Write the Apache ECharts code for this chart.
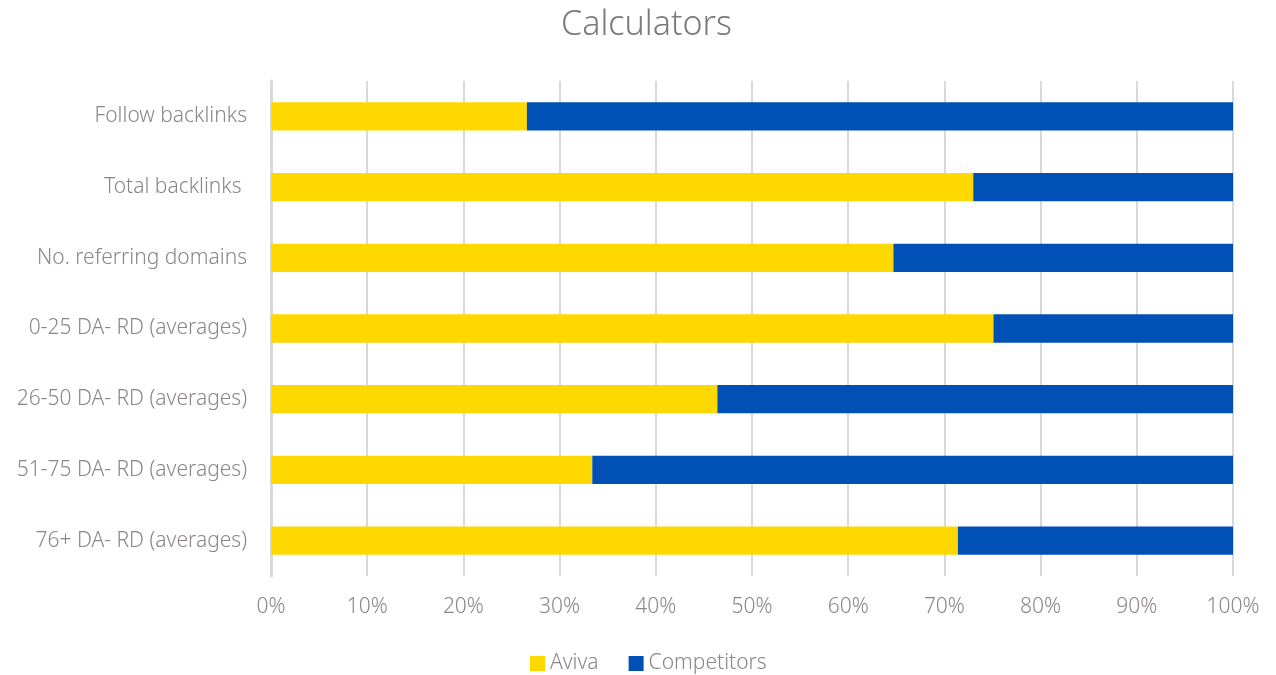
<!DOCTYPE html>
<html><head><meta charset="utf-8">
<script src="https://cdn.jsdelivr.net/npm/echarts@6/dist/echarts.min.js"></script>
<style>html,body{margin:0;padding:0;background:#fff}#c{width:1276px;height:675px}</style>
</head><body><div id="c"></div>
<script>
const categories = ["Follow backlinks","Total backlinks ","No. referring domains","0-25 DA- RD (averages)","26-50 DA- RD (averages)","51-75 DA- RD (averages)","76+ DA- RD (averages)"];
const aviva = [26.6, 73.0, 64.7, 75.1, 46.4, 33.4, 71.4];
const competitors = [73.4, 27.0, 35.3, 24.9, 53.6, 66.6, 28.6];
const xTicks = [0,10,20,30,40,50,60,70,80,90,100];

const font = "'Noto Sans', 'Open Sans', sans-serif";
const textColor = '#8c8585';
const chart = echarts.init(document.getElementById('c'));
chart.setOption({
  animation:false,
  title:{text:'Calculators',left:561,top:8,padding:0,textStyle:{fontFamily:font,fontWeight:300,fontSize:34,color:'#7f7878'}},
  legend:{top:653,left:530,padding:0,itemWidth:15,itemHeight:15,itemGap:30,icon:'rect',
    textStyle:{fontFamily:font,fontWeight:300,fontSize:21,color:textColor}},
  grid:{left:271,right:43,top:81,bottom:99,containLabel:false},
  xAxis:{type:'value',min:0,max:100,interval:10,
    axisLabel:{formatter:v=>v+'%',fontFamily:font,fontWeight:300,fontSize:21,color:textColor,margin:21},
    splitLine:{show:true,lineStyle:{color:'#d9d9d9',width:2}},
    axisLine:{show:false},axisTick:{show:false}},
  yAxis:{type:'category',data:categories,inverse:true,
    axisLabel:{fontFamily:font,fontWeight:300,fontSize:21,color:textColor,margin:24},
    axisLine:{show:true,lineStyle:{color:'#d9d9d9',width:3}},axisTick:{show:false}},
  series:[
    {name:'Aviva',type:'bar',stack:'s',data:aviva,barWidth:'40%',itemStyle:{color:'#FFD800'}},
    {name:'Competitors',type:'bar',stack:'s',data:competitors,barWidth:'40%',itemStyle:{color:'#0050B5'}}
  ]
});
</script></body></html>
